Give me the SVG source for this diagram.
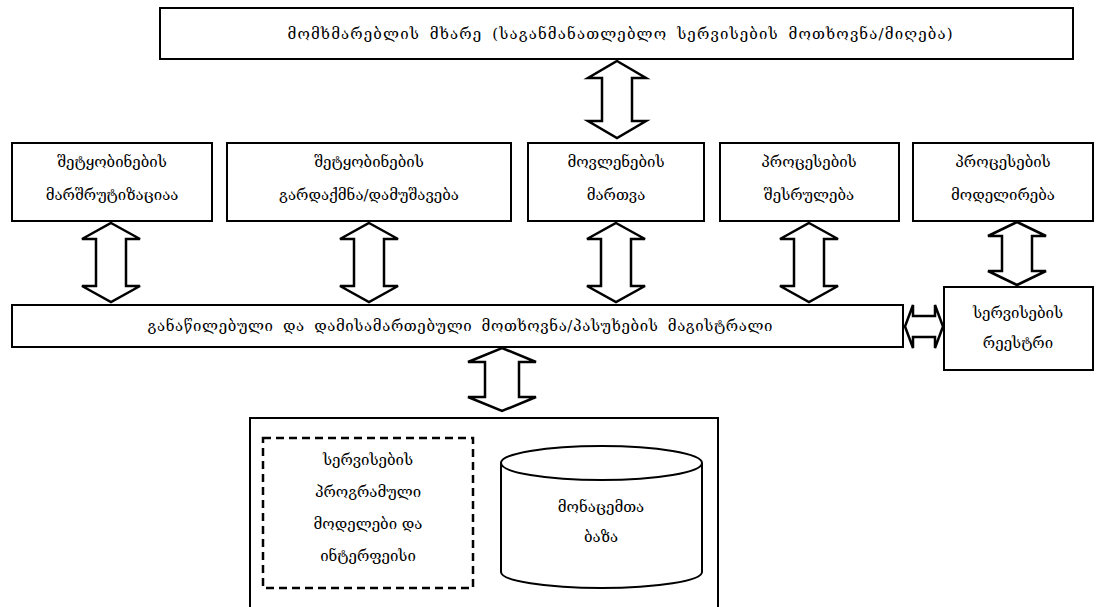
<svg xmlns="http://www.w3.org/2000/svg" width="1097" height="607" viewBox="0 0 1097 607">
  <style>
    .box { fill: #fff; stroke: #000; stroke-width: 2; }
    .dash { fill: none; stroke: #000; stroke-width: 2.5; stroke-dasharray: 8 5; }
    .arr { fill: #fff; stroke: #000; stroke-width: 2.5; stroke-linejoin: miter; }
    .lbl { font-family: "DejaVu Serif", "DejaVu Sans", serif; font-size: 15px; fill: #000; text-anchor: middle; }
    .wide { word-spacing: 4px; }
  </style>
  <rect width="1097" height="607" fill="#fff"/>

  <!-- double-headed block arrows -->
  <g id="connectors">
    <polygon class="arr" points="617,61 646,78 632,78 632,121 646,121 617,138 588,121 602,121 602,78 588,78"/>
    <polygon class="arr" points="111,223 140,239 126,239 126,286 140,286 111,302 82,286 96,286 96,239 82,239"/>
    <polygon class="arr" points="369,223 398,239 384,239 384,286 398,286 369,302 340,286 354,286 354,239 340,239"/>
    <polygon class="arr" points="616,223 645,239 631,239 631,286 645,286 616,302 587,286 601,286 601,239 587,239"/>
    <polygon class="arr" points="809,223 838,239 824,239 824,286 838,286 809,302 780,286 794,286 794,239 780,239"/>
    <polygon class="arr" points="1017,222 1046,236 1032,236 1032,271 1046,271 1017,285 988,271 1002,271 1002,236 988,236"/>
    <polygon class="arr" points="502,348 536,362 519,362 519,397 536,397 502,411 468,397 485,397 485,362 468,362"/>
    <polygon class="arr" points="905,326.5 913,305 913,316 935,316 935,305 943,326.5 935,348 935,337 913,337 913,348"/>
  </g>

  <g id="client">
    <rect class="box" x="160" y="8" width="913" height="51" stroke-width="3"/>
    <text class="lbl wide" x="620" y="39" textLength="665">მომხმარებლის მხარე (საგანმანათლებლო სერვისების მოთხოვნა/მიღება)</text>
  </g>

  <g id="routing">
    <rect class="box" x="12" y="143" width="200" height="78"/>
    <text class="lbl" x="112" y="167">შეტყობინების</text>
    <text class="lbl" x="112" y="200">მარშრუტიზაციაა</text>
  </g>

  <g id="transform">
    <rect class="box" x="227" y="143" width="284" height="78"/>
    <text class="lbl" x="369" y="167">შეტყობინების</text>
    <text class="lbl" x="369" y="200">გარდაქმნა/დამუშავება</text>
  </g>

  <g id="events">
    <rect class="box" x="528" y="143" width="176" height="78"/>
    <text class="lbl" x="616" y="167">მოვლენების</text>
    <text class="lbl" x="616" y="200">მართვა</text>
  </g>

  <g id="execution">
    <rect class="box" x="720" y="143" width="179" height="78"/>
    <text class="lbl" x="809" y="167">პროცესების</text>
    <text class="lbl" x="809" y="200">შესრულება</text>
  </g>

  <g id="modeling">
    <rect class="box" x="913" y="143" width="180" height="78"/>
    <text class="lbl" x="1003" y="167">პროცესების</text>
    <text class="lbl" x="1003" y="200">მოდელირება</text>
  </g>

  <g id="bus">
    <rect class="box" x="12" y="305" width="891" height="42"/>
    <text class="lbl wide" x="460" y="331" textLength="625">განაწილებული და დამისამართებული მოთხოვნა/პასუხების მაგისტრალი</text>
  </g>

  <g id="registry">
    <rect class="box" x="944" y="287" width="149" height="83"/>
    <text class="lbl" x="1018" y="318">სერვისების</text>
    <text class="lbl" x="1018" y="348">რეესტრი</text>
  </g>

  <g id="storage">
    <rect class="box" x="250" y="418" width="468" height="200"/>
    <rect class="dash" x="263" y="438" width="210" height="150"/>
    <text class="lbl" x="368" y="465">სერვისების</text>
    <text class="lbl" x="368" y="497">პროგრამული</text>
    <text class="lbl" x="368" y="529">მოდელები და</text>
    <text class="lbl" x="368" y="561">ინტერფეისი</text>
  </g>

  <g id="database">
    <path class="box" d="M501,463 L501,572 A100.5,16 0 0 0 702,572 L702,463"/>
    <ellipse class="box" cx="601.5" cy="463" rx="100.5" ry="17"/>
    <text class="lbl" x="601" y="512">მონაცემთა</text>
    <text class="lbl" x="601" y="542">ბაზა</text>
  </g>
</svg>
